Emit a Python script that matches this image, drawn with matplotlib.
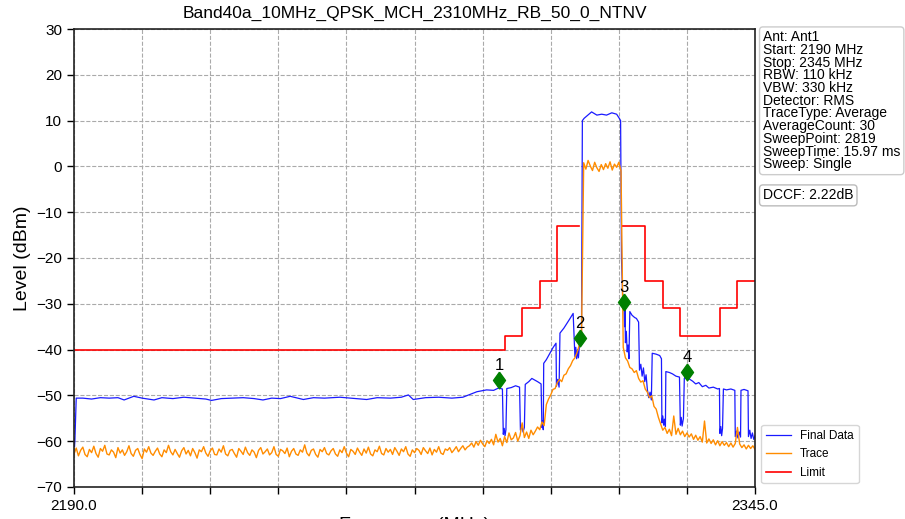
import numpy as np
import matplotlib
matplotlib.use("Agg")
import matplotlib.pyplot as plt

plt.rcParams["font.family"] = ["Liberation Sans", "DejaVu Sans"]

# Datos
titulo = "Band40a_10MHz_QPSK_MCH_2310MHz_RB_50_0_NTNV"
f_start = 2190.0
f_stop = 2345.0

# Traza "Final Data" (azul): puntos de quiebre (MHz, dBm)
blue_freq = [
    2190.0, 2190.1, 2190.2, 2190.5,
    2192.0, 2194.0, 2196.0, 2198.0, 2200.0, 2201.4, 2203.6, 2205.5, 2208.2, 2210.0,
    2212.5, 2215.0, 2217.5, 2220.0, 2221.3, 2223.5, 2226.0, 2228.5, 2231.0, 2233.0,
    2235.0, 2237.0, 2239.2, 2242.2, 2244.5, 2247.0, 2250.5, 2253.0, 2256.6, 2259.0,
    2262.0, 2264.5, 2266.1, 2267.2, 2270.0, 2273.0, 2276.0, 2278.5, 2280.1, 2281.7,
    2283.9, 2285.5, 2286.6,
    2287.5, 2287.7, 2287.9, 2288.1, 2288.3, 2288.5, 2289.5, 2290.5, 2291.4,
    2291.6, 2291.9, 2292.2, 2292.5, 2292.7, 2293.5, 2294.2, 2295.5, 2296.3,
    2296.5, 2296.65, 2296.8, 2296.9, 2297.5, 2298.3, 2299.0, 2299.7,
    2299.8, 2300.1, 2300.4, 2300.6, 2301.5, 2302.7, 2303.6,
    2304.0, 2304.2, 2304.4, 2304.6, 2304.8, 2305.0, 2305.3, 2305.5,
    2305.7, 2306.1, 2306.7, 2307.8, 2309.0, 2310.1, 2311.2, 2312.4, 2313.5, 2314.1,
    2314.4, 2314.6, 2314.9, 2315.1, 2315.3, 2315.4, 2315.5, 2315.7, 2315.9, 2316.1,
    2316.3, 2316.5, 2317.0, 2317.6, 2318.0, 2318.5,
    2318.7, 2319.0, 2319.3, 2319.6, 2319.9, 2320.2, 2320.5, 2320.8, 2321.1, 2321.4,
    2321.6, 2322.5, 2323.3, 2323.7,
    2323.8, 2324.0, 2324.2, 2324.4, 2324.6,
    2324.7, 2325.5, 2326.2, 2327.0, 2327.8,
    2328.0, 2328.2, 2328.4, 2328.7,
    2328.9, 2329.4, 2330.0, 2330.8, 2331.5, 2332.2, 2333.0, 2333.8, 2334.5, 2335.5,
    2336.5, 2336.9,
    2337.0, 2337.2, 2337.4, 2337.6,
    2337.8, 2338.5, 2339.5, 2340.4,
    2340.5, 2340.8, 2341.1, 2341.4, 2341.7,
    2341.8, 2342.5, 2343.4,
    2343.5, 2343.8, 2344.1, 2344.4, 2344.7, 2345.0,
]
blue_level = [
    -59.5, -61.2, -59.8, -50.6,
    -50.6, -50.8, -50.5, -50.6, -50.5, -51.0, -50.2, -50.6, -51.0, -50.5,
    -50.7, -50.4, -50.6, -50.8, -51.1, -50.7, -50.6, -50.5, -50.7, -51.0,
    -50.6, -50.7, -50.2, -50.9, -50.5, -50.6, -50.4, -50.6, -50.9, -50.5,
    -50.6, -50.4, -49.9, -50.9, -50.5, -50.4, -50.6, -50.4, -49.8, -49.2,
    -48.8, -48.9, -48.4,
    -48.6, -58.5, -57.2, -58.8, -57.5, -48.5, -48.3, -47.9, -48.2,
    -57.6, -56.5, -58.0, -57.0, -47.6, -47.0, -46.3, -47.0, -47.5,
    -57.0, -55.5, -57.5, -43.0, -42.2, -40.8, -39.6, -38.6,
    -48.0, -46.5, -48.2, -36.4, -35.3, -33.5, -32.1,
    -41.5, -39.5, -42.0, -40.0, -41.8, -39.5, -37.5, -36.0,
    10.0, 10.5, 11.0, 11.9, 11.2, 11.4, 11.2, 11.7, 11.4, 10.5,
    10.0, -20.0, -29.5, -28.8, -35.0, -31.0, -38.5, -36.0, -40.5, -39.0,
    -42.0, -31.7, -32.5, -33.0, -33.2, -34.0,
    -44.5, -43.2, -45.8, -44.0, -47.0, -45.5, -48.8, -50.5, -49.3, -51.0,
    -40.8, -41.0, -41.3, -42.0,
    -56.0, -54.5, -56.5, -55.2, -56.8,
    -44.8, -45.0, -45.3, -45.8, -46.0,
    -56.5, -54.8, -56.7, -55.0,
    -46.3, -45.6, -46.4, -46.9, -47.5, -47.2, -48.1, -47.8, -48.4, -48.2,
    -48.6, -48.5,
    -58.3, -56.8, -58.8, -57.2,
    -48.6, -48.8, -48.6, -48.9,
    -59.0, -57.8, -59.3, -58.0, -59.1,
    -48.9, -48.7, -49.0,
    -59.0, -57.6, -59.4, -58.2, -59.6, -58.8,
]

# Traza "Trace" (naranja): un valor cada 0.5 MHz desde 2190 hasta 2345
orange_level = [
    # 2190 - 2279.5
    -62.8, -61.5, -63.2, -62.0, -61.3, -62.9, -63.4, -61.8, -62.5, -61.1,
    -62.7, -63.5, -61.6, -62.2, -60.9, -62.8, -63.0, -61.9, -62.4, -63.6,
    -61.4, -62.6, -61.9, -63.1, -62.3, -61.0, -62.7, -63.3, -62.0, -61.6,
    -62.9, -63.8, -61.7, -62.4, -61.2, -62.6, -63.1, -62.2, -61.5, -62.8,
    -63.4, -61.9, -62.5, -60.9, -62.3, -63.0, -61.8, -62.7, -63.5, -62.1,
    -61.4, -62.8, -62.0, -63.2, -61.6, -62.5, -63.7, -61.9, -62.3, -61.2,
    -62.6, -63.3, -62.1, -61.5, -62.9, -63.0, -61.7, -62.4, -61.0, -62.8,
    -63.2, -62.0, -61.8, -62.7, -63.5, -61.6, -62.2, -62.9, -61.3, -62.5,
    -63.1, -61.9, -62.4, -63.6, -62.0, -61.4, -62.8, -62.3, -61.7, -63.0,
    -62.5, -61.2, -62.9, -63.3, -61.8, -62.1, -62.7, -61.5, -63.4, -62.2,
    -61.6, -62.8, -63.1, -61.9, -62.4, -60.8, -62.6, -63.2, -62.0, -61.7,
    -62.9, -63.5, -61.8, -62.3, -61.4, -62.7, -63.0, -62.1, -61.6, -62.8,
    -63.3, -61.9, -62.5, -61.2, -62.6, -63.4, -61.8, -62.2, -62.9, -61.5,
    -62.4, -63.1, -61.7, -62.6, -61.3, -62.8, -63.2, -61.9, -62.3, -61.1,
    -62.7, -63.0, -61.6, -62.4, -61.8, -62.9, -61.4, -62.2, -63.1, -61.7,
    -62.3, -61.2, -62.8, -63.3, -61.9, -62.5, -61.6, -62.0, -62.9, -61.4,
    -62.1, -62.7, -61.5, -63.0, -61.8, -62.4, -61.2, -62.6, -62.9, -61.7,
    -62.0, -61.4, -62.5, -61.9, -61.2, -62.3, -61.6, -61.0, -61.9, -61.3,
    # 2280 - 2304.5
    -61.0, -60.4, -61.3, -60.1, -60.9, -59.8, -60.6, -61.2, -59.9, -60.5,
    -59.6, -60.8, -58.5, -60.2, -59.4, -61.0, -59.0, -60.3, -58.2, -59.7,
    -59.3, -58.1, -60.0, -58.8, -56.0, -59.2, -58.0, -59.4, -57.6, -58.6,
    -57.8, -56.9, -57.5, -55.8, -56.6, -52.0, -50.8, -49.9, -48.7, -48.5,
    -47.2, -46.5, -47.0, -45.6, -45.3, -44.2, -43.5, -42.4, -41.8, -40.6,
    # 2305 - 2305.5
    -39.0, -37.5,
    # 2306 - 2314.5 (canal)
    0.8, -0.6, 1.3, 0.1, -0.9, 0.9, -0.3, -1.1, 0.4,
    -0.7, 0.6, -0.4, 1.0, -0.8, 0.5, -0.2, 0.9, -1.0,
    # 2315 - 2345
    -39.5, -41.8, -42.5, -43.9, -44.2, -45.0, -44.6, -46.3, -47.1, -46.8,
    -48.6, -49.3, -50.5, -50.1, -52.4, -53.0, -54.8, -56.2, -57.6, -57.0,
    -58.3, -57.4, -58.8, -54.5, -58.5, -57.2, -58.6, -57.8, -59.0, -58.2,
    -59.1, -58.4, -59.6, -58.7, -59.8, -59.0, -60.2, -55.6, -60.4, -59.5,
    -60.5, -59.7, -60.8, -59.9, -61.0, -60.1, -60.9, -60.3, -61.2, -60.4,
    -61.3, -60.5, -57.0, -60.6, -61.4, -60.8, -61.7, -60.9, -61.6, -61.0,
    -61.8,
]

# Limite (rojo), escalones a cada lado del canal
limit_left_freq = [2190, 2288, 2292, 2296, 2300, 2305]
limit_left_level = [-40, -37, -31, -25, -13, -13]
limit_right_freq = [2315, 2320, 2324, 2328, 2337, 2341, 2345]
limit_right_level = [-13, -25, -31, -37, -31, -25, -25]

# Marcadores
marker_freq = [2286.7, 2305.2, 2315.2, 2329.5]
marker_level = [-46.7, -37.4, -29.6, -44.8]
marker_names = ["1", "2", "3", "4"]

info_lines = [
    "Ant: Ant1",
    "Start: 2190 MHz",
    "Stop: 2345 MHz",
    "RBW: 110 kHz",
    "VBW: 330 kHz",
    "Detector: RMS",
    "TraceType: Average",
    "AverageCount: 30",
    "SweepPoint: 2819",
    "SweepTime: 15.97 ms",
    "Sweep: Single",
]
dccf_text = "DCCF: 2.22dB"

y_ticks = [-70, -60, -50, -40, -30, -20, -10, 0, 10, 20, 30]

# Grafico
fig = plt.figure(figsize=(9.05, 5.19), dpi=100)
ax = fig.add_axes([0.0818, 0.0617, 0.7525, 0.8824])

orange_freq = np.linspace(f_start, f_stop, len(orange_level))

ax.plot(blue_freq, blue_level, color="#1a1aff", lw=0.9, label="Final Data")
ax.plot(orange_freq, orange_level, color="#ff8c00", lw=1.0, label="Trace")
ax.plot(limit_left_freq, limit_left_level, color="#ff0000", lw=1.2,
        drawstyle="steps-post", label="Limit")
ax.plot(limit_right_freq, limit_right_level, color="#ff0000", lw=1.2,
        drawstyle="steps-post")

# rombo algo mas ancho que 'd'
rombo = [(0, 1), (0.72, 0), (0, -1), (-0.72, 0), (0, 1)]
ax.plot(marker_freq, marker_level, linestyle="none", marker=rombo,
        markersize=12, color="green", zorder=5)
for fx, ly, name in zip(marker_freq, marker_level, marker_names):
    ax.annotate(name, (fx, ly), xytext=(0, 5), textcoords="offset points",
                ha="center", va="bottom", fontsize=12, zorder=6)

ax.set_xlim(f_start, f_stop)
ax.set_ylim(-70, 30)
x_ticks = np.linspace(f_start, f_stop, 11)
ax.set_xticks(x_ticks)
ax.set_xticklabels(["2190.0"] + [""] * 9 + ["2345.0"])
ax.set_yticks(y_ticks)
ax.tick_params(labelsize=11, width=1.0, length=5)
ax.grid(True, linestyle="--", color="#aaaaaa", lw=0.8)
for sp in ax.spines.values():
    sp.set_linewidth(1.2)
    sp.set_color("#222222")

ax.set_title(titulo, fontsize=12.5, pad=8)
ax.set_ylabel("Level (dBm)", fontsize=14)
ax.set_xlabel("Frequency (MHz)", fontsize=14, labelpad=3)

# Cuadros de informacion
ax.text(1.0117, 0.997, "\n".join(info_lines), transform=ax.transAxes,
        ha="left", va="top", fontsize=10, linespacing=0.88,
        bbox=dict(boxstyle="round,pad=0.25", fc="white", ec="#cccccc"))
ax.text(1.0117, 0.652, dccf_text, transform=ax.transAxes,
        ha="left", va="top", fontsize=10,
        bbox=dict(boxstyle="round,pad=0.25", fc="white", ec="#bbbbbb"))

ax.legend(loc="lower left", bbox_to_anchor=(1.004, 0.0), fontsize=8.5,
          frameon=True, borderaxespad=0.3, handlelength=2.1, labelspacing=0.55)

fig.savefig("out.png", dpi=100)
